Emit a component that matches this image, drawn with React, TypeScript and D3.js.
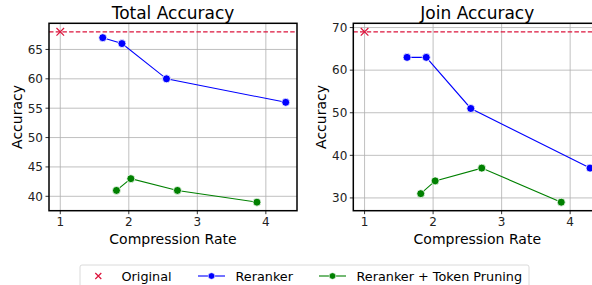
import React from 'react';
import * as d3 from 'd3';

// data
const compressionReranker = [1.62, 1.9, 2.55, 4.29];
const compressionPruning = [1.82, 2.03, 2.71, 3.87];
const totalReranker = [67, 66, 60, 56];
const totalPruning = [41, 43, 41, 39];
const totalOriginal = 68;
const joinReranker = [63, 63, 51, 37];
const joinPruning = [31, 34, 37, 29];
const joinOriginal = 69;
const xTicks = [1, 2, 3, 4];
const totalYTicks = [40, 45, 50, 55, 60, 65];
const joinYTicks = [30, 40, 50, 60, 70];

const RED = '#dc143c';
const BLUE = '#0000ff';
const GREEN = '#008000';
const FONT = 'DejaVu Sans, sans-serif';

type PanelProps = {
  left: number;
  title: string;
  reranker: number[];
  pruning: number[];
  original: number;
  yDomain: [number, number];
  yTicks: number[];
};

const top = 23.3;
const bottom = 210.7;
const panelW = 248;

const Panel = ({ left, title, reranker, pruning, original, yDomain, yTicks }: PanelProps) => {
  const x = d3.scaleLinear().domain([0.8355, 4.4545]).range([left, left + panelW]);
  const y = d3.scaleLinear().domain(yDomain).range([bottom, top]);
  const line = d3.line<[number, number]>().x(d => x(d[0])).y(d => y(d[1]));
  const rr: [number, number][] = compressionReranker.map((c, i) => [c, reranker[i]]);
  const tp: [number, number][] = compressionPruning.map((c, i) => [c, pruning[i]]);
  const cx = (left + left + panelW) / 2;
  const ox = x(1), oy = y(original);
  return (
    <g>
      <defs>
        <clipPath id={`clip-${left}`}>
          <rect x={left} y={top} width={panelW} height={bottom - top} />
        </clipPath>
      </defs>
      {/* grid */}
      {xTicks.map(t => (
        <line key={'gx' + t} x1={x(t)} x2={x(t)} y1={top} y2={bottom} stroke="#b0b0b0" strokeWidth={0.8} />
      ))}
      {yTicks.map(t => (
        <line key={'gy' + t} x1={left} x2={left + panelW} y1={y(t)} y2={y(t)} stroke="#b0b0b0" strokeWidth={0.8} />
      ))}
      <g clipPath={`url(#clip-${left})`}>
        <line x1={left} x2={left + panelW} y1={oy} y2={oy} stroke={RED} strokeWidth={1.2} strokeDasharray="4.5,2.2" />
      </g>
      <path d={line(rr) || ''} fill="none" stroke={BLUE} strokeWidth={1.1} />
      <path d={line(tp) || ''} fill="none" stroke={GREEN} strokeWidth={1.1} />
      {rr.map((d, i) => (
        <circle key={'r' + i} cx={x(d[0])} cy={y(d[1])} r={4} fill={BLUE} stroke="#fff" strokeWidth={0.8} />
      ))}
      {tp.map((d, i) => (
        <circle key={'p' + i} cx={x(d[0])} cy={y(d[1])} r={4} fill={GREEN} stroke="#fff" strokeWidth={0.8} />
      ))}
      <path d={`M${ox - 3.8},${oy - 3.8}L${ox + 3.8},${oy + 3.8}M${ox - 3.8},${oy + 3.8}L${ox + 3.8},${oy - 3.8}`} stroke={RED} strokeWidth={1.2} />
      {/* frame */}
      <rect x={left} y={top} width={panelW} height={bottom - top} fill="none" stroke="#000" strokeWidth={1.5} />
      {/* ticks */}
      {xTicks.map(t => (
        <g key={'tx' + t}>
          <line x1={x(t)} x2={x(t)} y1={bottom} y2={bottom + 3.5} stroke="#000" strokeWidth={0.8} />
          <text x={x(t)} y={bottom + 15} textAnchor="middle" fontSize={12} fontFamily={FONT} fill="#222">{t}</text>
        </g>
      ))}
      {yTicks.map(t => (
        <g key={'ty' + t}>
          <line x1={left - 3.5} x2={left} y1={y(t)} y2={y(t)} stroke="#000" strokeWidth={0.8} />
          <text x={left - 6} y={y(t)} dy="0.36em" textAnchor="end" fontSize={12} fontFamily={FONT} fill="#222">{t}</text>
        </g>
      ))}
      <text x={cx} y={19} textAnchor="middle" fontSize={17} fontFamily={FONT} fill="#000">{title}</text>
      <text x={cx} y={244} textAnchor="middle" fontSize={14} fontFamily={FONT} fill="#000">Compression Rate</text>
      <text transform={`translate(${left - 27.5},${(top + bottom) / 2}) rotate(-90)`} textAnchor="middle" fontSize={14} fontFamily={FONT} fill="#000">Accuracy</text>
    </g>
  );
};

const App = () => {
  return (
    <svg width={592} height={285} style={{ position: 'absolute', left: 0, top: 0, background: '#fff' }}>
      <Panel left={49} title="Total Accuracy" reranker={totalReranker} pruning={totalPruning} original={totalOriginal} yDomain={[37.55, 69.45]} yTicks={totalYTicks} />
      <Panel left={353.3} title="Join Accuracy" reranker={joinReranker} pruning={joinPruning} original={joinOriginal} yDomain={[27, 71]} yTicks={joinYTicks} />
      {/* legend */}
      <g fontFamily={FONT} fontSize={12.8} fill="#000">
        <rect x={80} y={265} width={449} height={30} rx={2} fill="#fff" stroke="#d0d0d0" strokeWidth={0.8} />
        <path d="M95.3,273L101.3,279M95.3,279L101.3,273" stroke={RED} strokeWidth={1.2} />
        <text x={121.5} y={280.8}>Original</text>
        <line x1={198} x2={225} y1={276} y2={276} stroke={BLUE} strokeWidth={1.1} />
        <circle cx={211.5} cy={276} r={3.3} fill={BLUE} stroke="#fff" strokeWidth={0.6} />
        <text x={235.5} y={280.8}>Reranker</text>
        <line x1={319} x2={346} y1={276} y2={276} stroke={GREEN} strokeWidth={1.1} />
        <circle cx={332.5} cy={276} r={3.3} fill={GREEN} stroke="#fff" strokeWidth={0.6} />
        <text x={356.5} y={280.8}>Reranker + Token Pruning</text>
      </g>
    </svg>
  );
};

export default App;
